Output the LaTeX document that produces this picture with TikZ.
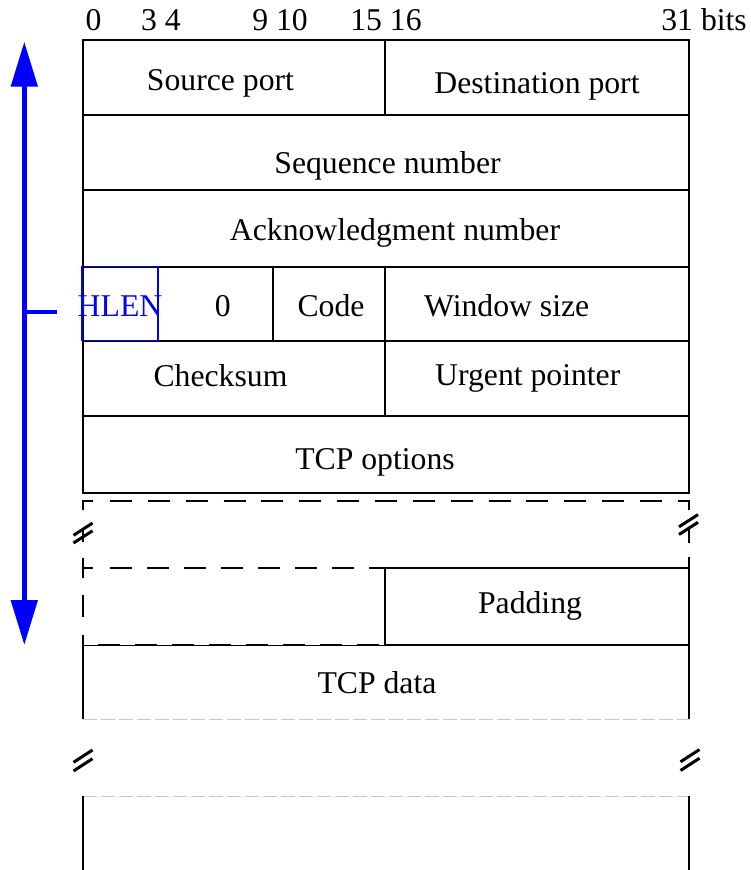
\documentclass[tikz,border=0pt]{standalone}
\usepackage{fontspec}
\setmainfont{Liberation Serif}
\usetikzlibrary{arrows.meta}
\tikzset{
  lbl/.style={anchor=base, inner sep=0pt, font=\fontsize{31.7}{38}\selectfont},
  frame/.style={line width=2pt, black},
  dsh/.style={line width=2pt, black, dash pattern=on 22pt off 15.86pt},
  ghost/.style={line width=1pt, black!22, dash pattern=on 14pt off 4pt},
  brk/.style={line width=3pt, black},
  hlenbox/.style={line width=1.5pt, blue},
  bluearrow/.style={line width=5pt, blue, {Triangle[length=45pt,width=26pt]}-{Triangle[length=45pt,width=26pt]}},
}
\begin{document}
\begin{tikzpicture}[x=1pt,y=-1pt]
\useasboundingbox (0,0) rectangle (751,870);

% ---- bit labels
\node[lbl] (b0)  at (93.6,30) {0};
\node[lbl] (b34) at (161,30) {3 4};
\node[lbl] (b910) at (280,30) {9 10};
\node[lbl] (b1516) at (386,30) {15 16};
\node[lbl,anchor=base east] (b31) at (747,30) {31 bits};

% ---- header frame
\draw[frame] (83,493.3) -- (83,40) -- (689,40) -- (689,493.3) -- cycle;
\draw[frame] (83,115) -- (689,115);
\draw[frame] (83,190) -- (689,190);
\draw[frame] (83,266.7) -- (689,266.7);
\draw[frame] (83,341) -- (689,341);
\draw[frame] (83,415.7) -- (689,415.7);
\draw[frame] (385,40) -- (385,115);
\draw[frame] (385,266.7) -- (385,415.7);
\draw[frame] (273,266.7) -- (273,341);
\draw[hlenbox] (82,266.7) rectangle (158,340.7);

% ---- texts
\node[lbl] (src) at (220.5,90) {Source port};
\node[lbl] (dst) at (537,93) {Destination port};
\node[lbl] (seq) at (387.5,173.3) {Sequence number};
\node[lbl] (ack) at (395,240) {Acknowledgment number};
\node[lbl,text=blue] (hlen) at (120,316.7) {HLEN};
\node[lbl] (zero) at (222.7,316.7) {0};
\node[lbl] (code) at (331,316.7) {Code};
\node[lbl] (win) at (506.7,316.7) {Window size};
\node[lbl] (chk) at (220.5,386) {Checksum};
\node[lbl] (urg) at (527.8,385) {Urgent pointer};
\node[lbl] (opt) at (375,469) {TCP options};
\node[lbl] (pad) at (530,613) {Padding};
\node[lbl] (data) at (377,693) {TCP data};

% ---- options continuation (dashed)
\draw[frame] (83,510) -- (83,500.7) -- (93,500.7);
\draw[frame] (678,500.7) -- (689,500.7) -- (689,510);
\draw[dsh] (110,500.7) -- (662,500.7);
\draw[frame] (83,568) -- (93,568);
\draw[dsh, dash pattern=on 22pt off 15pt] (110,568) -- (385,568);
\draw[frame] (385,568) -- (689,568);
\draw[line width=1pt] (83,645) -- (385,645);
\draw[dsh, dash pattern=on 22pt off 15pt] (98,645) -- (385,645);
\draw[frame] (385,568) -- (385,645) -- (689,645);
% left side segments
\draw[frame] (83,530) -- (83,542);
\draw[frame] (83,558) -- (83,578);
\draw[frame] (83,595) -- (83,617);
\draw[frame] (83,635) -- (83,719);
% right side segments
\draw[frame] (689,527) -- (689,543);
\draw[frame] (689,557) -- (689,719);
% break marks
\draw[brk] (73.5,535.3) -- (92.5,523.1) (73.5,543.0) -- (92.5,530.8);
\draw[brk] (679,526.8) -- (698,514.6) (679,534.5) -- (698,522.3);
\draw[brk] (73.5,762.3) -- (92.5,750.0) (73.5,771.0) -- (92.5,758.7);
\draw[brk] (680.5,761.8) -- (699.5,749.5) (680.5,770.5) -- (699.5,758.2);

% ---- data area
\draw[ghost] (83,719) -- (689,719);
\draw[ghost] (83,796) -- (689,796);
\draw[frame] (83,796) -- (83,870);
\draw[frame] (689,796) -- (689,870);

% ---- header length arrow
\coordinate (atop) at (24.3,41.7);
\coordinate (abot) at (24.3,645);
\coordinate (tick) at (56.7,312);
\draw[bluearrow] (abot) -- (atop);
\draw[blue, line width=4pt] (21.8,312) -- (tick);
\end{tikzpicture}
\end{document}
